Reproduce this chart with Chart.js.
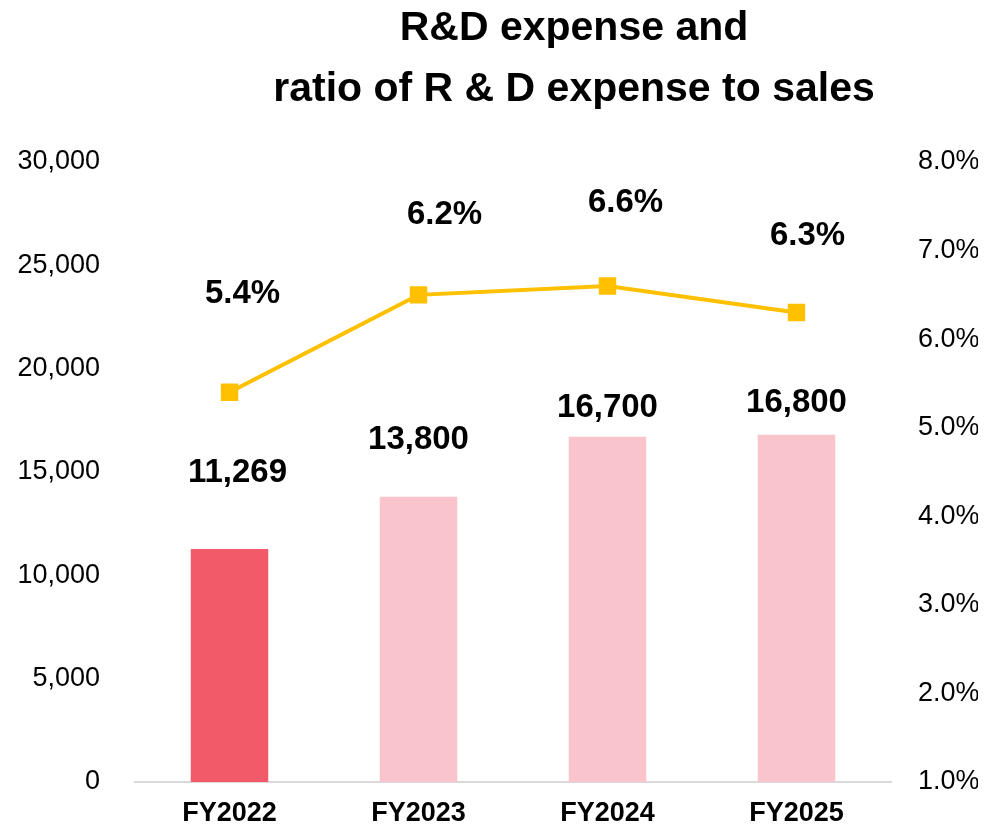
<!DOCTYPE html>
<html>
<head>
<meta charset="utf-8">
<script src="https://cdn.jsdelivr.net/npm/chart.js@4"></script>
<style>
  html, body { margin: 0; padding: 0; background: #fff; overflow: hidden; }
  canvas { display: block; }
</style>
</head>
<body>
<canvas id="grafico" width="984" height="826"></canvas>
<script>
const categorias = ['FY2022', 'FY2023', 'FY2024', 'FY2025'];
const gastoPD = [11269, 13800, 16700, 16800];
const gastoTexto = ['11,269', '13,800', '16,700', '16,800'];
const razaoVendas = [5.4, 6.5, 6.6, 6.3];
const razaoTexto = ['5.4%', '6.2%', '6.6%', '6.3%'];
const ticksEsq = [0, 5000, 10000, 15000, 20000, 25000, 30000];
const ticksDir = [1, 2, 3, 4, 5, 6, 7, 8];

const fonte = '"Liberation Sans", Arial, sans-serif';
const corBarras = ['#F25A69', '#F9C4CB', '#F9C4CB', '#F9C4CB'];

// rotulos desenhados à mão, como no original
const rotulosPlugin = {
    id: 'rotulos',
    afterDatasetsDraw(chart) {
        const c = chart.ctx;
        c.save();
        c.fillStyle = '#000';
        c.textAlign = 'center';
        c.textBaseline = 'middle';

        // titulo
        c.font = 'bold 41px ' + fonte;
        c.fillText('R&D expense and', 574, 29);
        c.fillText('ratio of R & D expense to sales', 574, 90);

        c.font = 'bold 33px ' + fonte;
        const barras = chart.getDatasetMeta(1).data;
        const dxBarra = [8, 0, 0, 0];
        const dyBarra = [76, 57, 29, 32];
        barras.forEach((b, i) => {
            c.fillText(gastoTexto[i], b.x + dxBarra[i], b.y - dyBarra[i]);
        });

        const pontos = chart.getDatasetMeta(0).data;
        const dxLinha = [13, 26, 18, 11];
        const dyLinha = [98, 80, 83, 77];
        pontos.forEach((p, i) => {
            c.fillText(razaoTexto[i], p.x + dxLinha[i], p.y - dyLinha[i]);
        });
        c.restore();
    }
};

// largura fixa do eixo e sem folga vertical extra
function fixarEixo(largura) {
    return axis => {
        axis.width = largura;
        axis.paddingTop = 0;
        axis.paddingBottom = 0;
    };
}

const ctx = document.getElementById('grafico').getContext('2d');

const chart = new Chart(ctx, {
    data: {
        labels: categorias,
        datasets: [
            {
                type: 'line',
                label: 'Ratio',
                data: razaoVendas,
                yAxisID: 'yDir',
                borderColor: '#FFC000',
                backgroundColor: '#FFC000',
                borderWidth: 4,
                pointStyle: 'rect',
                pointRadius: 9.5,
                pointHoverRadius: 9.5,
                tension: 0,
                order: 0
            },
            {
                type: 'bar',
                label: 'R&D expense',
                data: gastoPD,
                yAxisID: 'yEsq',
                backgroundColor: corBarras,
                barPercentage: 0.41,
                categoryPercentage: 1,
                order: 1
            }
        ]
    },
    options: {
        responsive: false,
        animation: false,
        layout: {
            padding: { top: 162, left: 17, right: 6, bottom: 0 }
        },
        plugins: {
            legend: { display: false },
            title: { display: false },
            tooltip: { enabled: false }
        },
        scales: {
            x: {
                grid: { display: false, drawTicks: false },
                border: { display: true, color: '#D9D9D9', width: 2 },
                afterFit: axis => { axis.height = 44; },
                ticks: {
                    color: '#000',
                    padding: 18,
                    font: { family: fonte, size: 27, weight: 'bold', lineHeight: 1 }
                }
            },
            yEsq: {
                position: 'left',
                min: 0,
                max: 30000,
                grid: { display: false, drawTicks: false },
                border: { display: false },
                afterFit: fixarEixo(118),
                afterBuildTicks: axis => { axis.ticks = ticksEsq.map(v => ({ value: v })); },
                ticks: {
                    color: '#000',
                    padding: 35,
                    font: { family: fonte, size: 27 },
                    callback: v => v.toLocaleString('en-US')
                }
            },
            yDir: {
                position: 'right',
                min: 1,
                max: 8,
                grid: { display: false, drawTicks: false },
                border: { display: false },
                afterFit: fixarEixo(87),
                afterBuildTicks: axis => { axis.ticks = ticksDir.map(v => ({ value: v })); },
                ticks: {
                    color: '#000',
                    padding: 27,
                    font: { family: fonte, size: 27 },
                    callback: v => v.toFixed(1) + '%'
                }
            }
        }
    },
    plugins: [rotulosPlugin]
});
</script>
</body>
</html>
